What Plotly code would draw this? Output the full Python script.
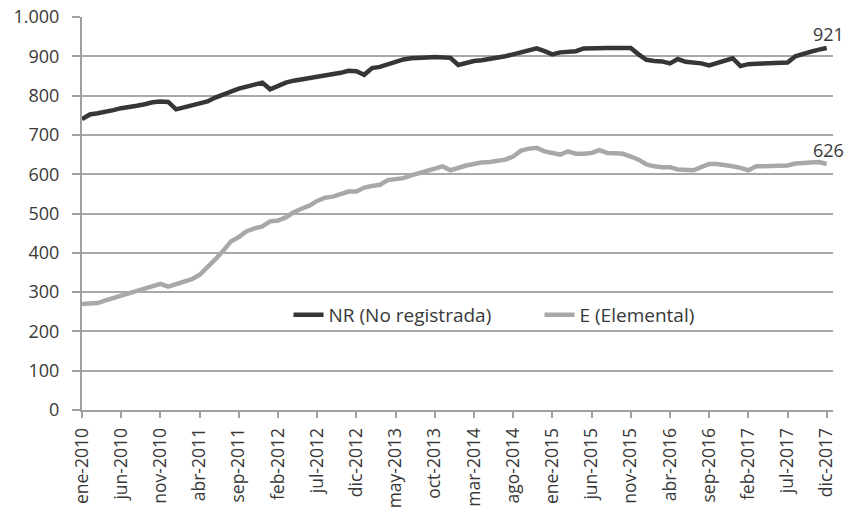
import plotly.graph_objects as go

months = ["ene", "feb", "mar", "abr", "may", "jun", "jul", "ago", "sep", "oct", "nov", "dic"]
years = list(range(2010, 2018))
categories = [f"{m}-{y}" for y in years for m in months]

nr_values = [740, 752, 755, 758, 763, 768, 770, 774, 778, 783,
             785, 784, 765, 770, 775, 778, 785, 795, 803, 810,
             818, 823, 828, 833, 816, 825, 833, 838, 841, 845,
             848, 851, 854, 858, 863, 862, 853, 870, 873, 880,
             886, 892, 895, 897, 897, 898, 897, 896, 878, 883,
             888, 890, 893, 896, 900, 905, 910, 915, 920, 913,
             905, 910, 912, 913, 920, 921, 921, 921, 921, 921,
             921, 905, 891, 888, 887, 882, 893, 886, 884, 882,
             877, 884, 890, 895, 875, 880, 881, 882, 884, 885,
             884, 900, 907, 912, 917, 921]

e_values = [270, 270, 272, 279, 285, 291, 297, 302, 308, 314,
            321, 314, 320, 327, 333, 344, 362, 383, 405, 429,
            440, 455, 462, 467, 480, 482, 490, 503, 512, 520,
            532, 540, 543, 550, 556, 556, 566, 570, 573, 585,
            588, 590, 597, 603, 609, 614, 620, 610, 617, 622,
            626, 630, 631, 634, 637, 645, 660, 665, 667, 658,
            655, 650, 658, 652, 652, 654, 661, 654, 653, 652,
            645, 637, 625, 620, 618, 618, 612, 610, 610, 618,
            626, 626, 624, 620, 616, 610, 620, 620, 620, 620,
            622, 627, 628, 630, 631, 626]

y_ticks = [0, 100, 200, 300, 400, 500, 600, 700, 800, 900, 1000]
y_tick_labels = ["0", "100", "200", "300", "400", "500", "600", "700", "800", "900", "1.000"]

x_idx = list(range(len(categories)))
x_tick_idx = x_idx[::5]
x_tick_labels = [categories[i] for i in x_tick_idx]

font_family = "'Open Sans', sans-serif"
text_color = "#383838"

fig = go.Figure()
fig.add_trace(go.Scatter(x=x_idx, y=nr_values, mode="lines", name="NR (No registrada)",
                         line=dict(color="#363636", width=4.5)))
fig.add_trace(go.Scatter(x=x_idx, y=e_values, mode="lines", name="E (Elemental)",
                         line=dict(color="#a8a8a8", width=4.5)))

for vals in (nr_values, e_values):
    fig.add_annotation(xref="paper", x=1, yref="y", y=vals[-1], text=str(vals[-1]),
                       showarrow=False, xanchor="center", xshift=-5, yshift=14,
                       font=dict(size=18, color=text_color, family=font_family))

fig.update_layout(
    width=845, height=513,
    margin=dict(l=82, r=12, t=17, b=103, autoexpand=False),
    paper_bgcolor="white", plot_bgcolor="white",
    font=dict(family=font_family, color=text_color, size=18),
    showlegend=True,
    legend=dict(orientation="h", x=0.275, y=0.242, xanchor="left", yanchor="middle",
                bgcolor="rgba(0,0,0,0)", font=dict(size=19, color=text_color),
                itemwidth=30, entrywidthmode="pixels", entrywidth=206),
    xaxis=dict(range=[0, 95.8], tickmode="array", tickvals=x_tick_idx, ticktext=x_tick_labels,
               tickangle=-90, showgrid=False, showline=True, linecolor="#a0a0a0", linewidth=2,
               ticks="outside", ticklen=6, tickcolor="#a0a0a0", tickwidth=2,
               ticklabelstandoff=3, automargin=False, ticklabeloverflow="allow",
               tickfont=dict(size=17.5, color=text_color), zeroline=False),
    yaxis=dict(range=[0, 1000], tickmode="array", tickvals=y_ticks, ticktext=y_tick_labels,
               showgrid=True, gridcolor="#a8a8a8", gridwidth=2,
               showline=True, linecolor="#a0a0a0", linewidth=2,
               ticks="outside", ticklen=8, tickcolor="#a0a0a0", tickwidth=2,
               ticklabelstandoff=9, automargin=False, ticklabeloverflow="allow",
               tickfont=dict(size=18, color=text_color), zeroline=False),
)

fig.write_html(
    "out.html",
    config={"displayModeBar": False, "staticPlot": True},
    post_script="document.body.style.margin='0';document.body.style.overflow='hidden';",
)
